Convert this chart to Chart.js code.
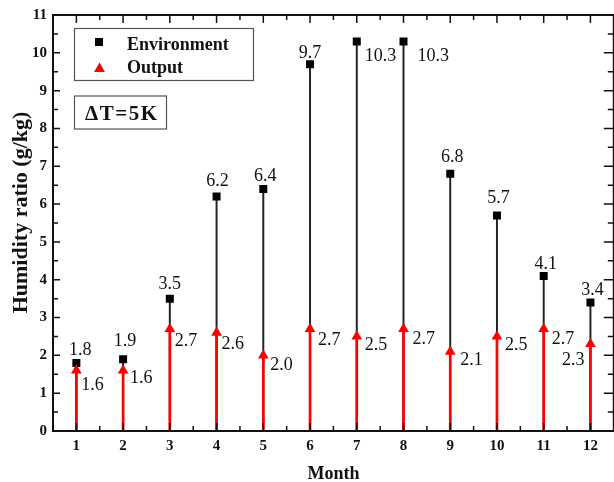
<!DOCTYPE html>
<html><head><meta charset="utf-8">
<script src="https://cdn.jsdelivr.net/npm/chart.js@4/dist/chart.umd.min.js"></script>
<style>
html,body{margin:0;padding:0;overflow:hidden;background:#fff;width:614px;height:482px}
#wrap{width:620px;height:482px}
</style></head><body>
<div id="wrap"><canvas id="c" width="620" height="482"></canvas></div>
<script>
// ---- data ----
const months = [1,2,3,4,5,6,7,8,9,10,11,12];
const environment = [1.8,1.9,3.5,6.2,6.4,9.7,10.3,10.3,6.8,5.7,4.1,3.4];
const output = [1.6,1.6,2.7,2.6,2.0,2.7,2.5,2.7,2.1,2.5,2.7,2.3];
const yTickValues = [0,1,2,3,4,5,6,7,8,9,10,11];
const seriesNames = ['Environment','Output'];
const noteText = 'ΔT=5K';
const xTitle = 'Month';
const yTitle = 'Humidity ratio (g/kg)';

// ---- label placement (style, not data): [dx, dy, align] ----
const envLabelPos = [[4,-8,'center'],[2,-13,'center'],[0,-10,'center'],[1,-11,'center'],[2,-8,'center'],[0,-6,'center'],
  [8,20,'left'],[14,20,'left'],[2,-12,'center'],[1.5,-12.5,'center'],[2,-6.5,'center'],[2,-7.5,'center']];
const outLabelPos = [[5,20,'left'],[7,13,'left'],[5,17,'left'],[5,16,'left'],[7,15,'left'],[8,16,'left'],
  [8,14,'left'],[9,15,'left'],[10,13,'left'],[8,14,'left'],[8,15,'left'],[-6,21,'right']];

const SERIF = "'Liberation Serif','Times New Roman',serif";

const decor = {
  id: 'decor',
  afterDatasetsDraw(chart) {
    const ctx = chart.ctx;
    ctx.save();
    ctx.font = '18px ' + SERIF;
    ctx.fillStyle = '#111';
    ctx.textBaseline = 'alphabetic';
    const draw = (dsIndex, values, pos) => {
      const meta = chart.getDatasetMeta(dsIndex);
      meta.data.forEach((el, i) => {
        const [dx, dy, al] = pos[i];
        ctx.textAlign = al;
        ctx.fillText(values[i].toFixed(1), el.x + dx, el.y + dy);
      });
    };
    draw(2, environment, envLabelPos);
    draw(3, output, outLabelPos);
    ctx.restore();
  },
  afterDraw(chart) {
    const ctx = chart.ctx;
    const a = chart.chartArea;
    const xs = chart.scales.x, ys = chart.scales.y;
    ctx.save();
    // ticks
    ctx.strokeStyle = '#111';
    ctx.lineWidth = 1.5;
    ctx.beginPath();
    const yMinor = [];
    yTickValues.forEach((v, i) => { if (i < yTickValues.length - 1) yMinor.push((v + yTickValues[i+1]) / 2); });
    yTickValues.forEach(v => {
      const y = ys.getPixelForValue(v);
      ctx.moveTo(a.left, y); ctx.lineTo(a.left + 7, y);
      ctx.moveTo(a.right, y); ctx.lineTo(a.right - 10, y);
    });
    yMinor.forEach(v => {
      const y = ys.getPixelForValue(v);
      ctx.moveTo(a.left, y); ctx.lineTo(a.left + 5, y);
      ctx.moveTo(a.right, y); ctx.lineTo(a.right - 6, y);
    });
    const xMinor = [];
    months.forEach((m, i) => { if (i < months.length - 1) xMinor.push((m + months[i+1]) / 2); });
    months.forEach(m => {
      const x = xs.getPixelForValue(m);
      ctx.moveTo(x, a.top); ctx.lineTo(x, a.top + 8);
      ctx.moveTo(x, a.bottom); ctx.lineTo(x, a.bottom - 8);
    });
    xMinor.forEach(m => {
      const x = xs.getPixelForValue(m);
      ctx.moveTo(x, a.top); ctx.lineTo(x, a.top + 5);
      ctx.moveTo(x, a.bottom); ctx.lineTo(x, a.bottom - 5);
    });
    ctx.stroke();
    // frame
    ctx.lineWidth = 2;
    ctx.strokeStyle = '#111';
    ctx.strokeRect(a.left, a.top, a.right - a.left, a.bottom - a.top);

    // legend box
    ctx.lineWidth = 1.2;
    ctx.strokeStyle = '#555';
    ctx.strokeRect(74.5, 28.5, 179, 52);
    ctx.fillStyle = '#000';
    ctx.fillRect(95, 38, 8, 8);
    ctx.fillStyle = '#ff0000';
    ctx.beginPath();
    ctx.moveTo(99.5, 62.5); ctx.lineTo(105, 72); ctx.lineTo(94, 72); ctx.closePath();
    ctx.fill();
    ctx.fillStyle = '#111';
    ctx.font = 'bold 18px ' + SERIF;
    ctx.textAlign = 'left';
    ctx.textBaseline = 'alphabetic';
    ctx.fillText(seriesNames[0], 127, 49.5);
    ctx.fillText(seriesNames[1], 127, 72.5);

    // note box
    ctx.strokeRect(74.5, 96, 92, 33);
    ctx.font = 'bold 21px ' + SERIF;
    try { ctx.letterSpacing = '1.5px'; } catch (e) {}
    ctx.fillText(noteText, 85, 119.5);
    try { ctx.letterSpacing = '0px'; } catch (e) {}

    // axis titles
    ctx.font = 'bold 18px ' + SERIF;
    ctx.textAlign = 'center';
    ctx.fillText(xTitle, (a.left + a.right) / 2, 479);
    ctx.save();
    ctx.translate(27, 212.5);
    ctx.rotate(-Math.PI / 2);
    ctx.font = 'bold 22px ' + SERIF;
    ctx.fillText(yTitle, 0, 0);
    ctx.restore();
    ctx.restore();
  }
};

const pts = arr => months.map((m, i) => ({ x: m, y: arr[i] }));

new Chart(document.getElementById('c'), {
  type: 'bar',
  data: {
    datasets: [
      { type: 'bar', data: pts(environment), backgroundColor: '#222', barThickness: 1.3, grouped: false, order: 4 },
      { type: 'bar', data: pts(output), backgroundColor: '#ff0000', barThickness: 2, grouped: false, order: 3 },
      { type: 'scatter', label: seriesNames[0], data: pts(environment), pointStyle: 'rect', pointRadius: 5.66,
        backgroundColor: '#000', borderWidth: 0, pointBorderWidth: 0, order: 2 },
      { type: 'scatter', label: seriesNames[1], data: pts(output), pointStyle: 'triangle', pointRadius: 6.2,
        backgroundColor: '#ff0000', borderWidth: 0, pointBorderWidth: 0, order: 1 }
    ]
  },
  options: {
    responsive: false,
    animation: false,
    layout: { padding: { top: 15, right: 3.5, left: 0, bottom: 0 } },
    plugins: { legend: { display: false }, tooltip: { enabled: false } },
    scales: {
      x: {
        type: 'linear', min: 0.5, max: 12.5, offset: false,
        afterBuildTicks: s => { s.ticks = months.map(v => ({ value: v })); },
        afterFit: s => { s.height = 51; s.paddingLeft = 0; s.paddingRight = 0; },
        grid: { display: false, drawTicks: false, offset: false },
        border: { display: false },
        ticks: { font: { family: SERIF, weight: 'bold', size: 15 }, color: '#111', padding: 6, maxRotation: 0, autoSkip: false }
      },
      y: {
        type: 'linear', min: 0, max: 11,
        afterBuildTicks: s => { s.ticks = yTickValues.map(v => ({ value: v })); },
        afterFit: s => { s.width = 53; s.paddingTop = 0; s.paddingBottom = 0; },
        grid: { display: false, drawTicks: false },
        border: { display: false },
        ticks: { font: { family: SERIF, weight: 'bold', size: 15 }, color: '#111', padding: 6, autoSkip: false }
      }
    }
  },
  plugins: [decor]
});
</script>
</body></html>
